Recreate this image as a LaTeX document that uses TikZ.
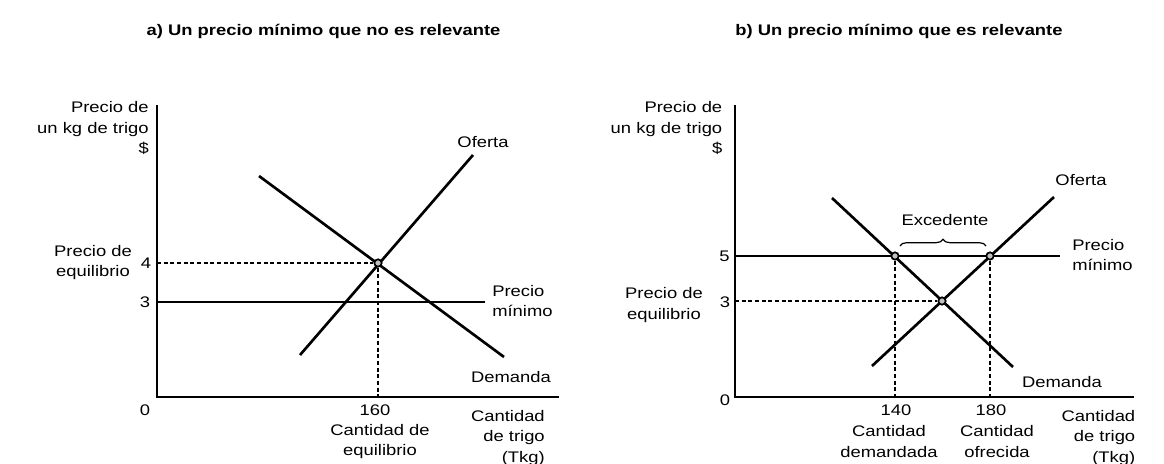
\documentclass[tikz,border=0pt]{standalone}
\usepackage{fontspec}
\setmainfont{Liberation Sans}[FakeStretch=1.2]
\usetikzlibrary{decorations.pathreplacing}
\begin{document}
\begin{tikzpicture}[x=0.75pt,y=-0.75pt,
  lbl/.style={inner sep=0pt,font=\fontsize{11.5}{15.4}\selectfont},
  ttl/.style={inner sep=0pt,font=\fontsize{11.5}{15.4}\selectfont\bfseries},
  axisline/.style={line width=1.4pt},
  curve/.style={line width=2pt},
  floor/.style={line width=1.6pt},
  guide/.style={line width=0.8pt,dash pattern=on 3pt off 2pt},
  pt/.style={circle,draw,line width=1.3pt,fill=gray!50,minimum size=5.5pt,inner sep=0pt}]
\useasboundingbox (0,0) rectangle (1164,464);

% ---------------- panel a ----------------
\node[ttl] (ta) at (323.5,31) {a) Un precio mínimo que no es relevante};
\coordinate (Ya) at (157,105);
\coordinate (Oa) at (157,397);
\coordinate (Xa) at (559,397);
\draw[axisline] (Ya) -- (Oa) -- (Xa);
\coordinate (Sa1) at (300,355); \coordinate (Sa2) at (473,155);
\coordinate (Da1) at (259,176); \coordinate (Da2) at (504,357);
\draw[curve] (Sa1) -- (Sa2);
\draw[curve] (Da1) -- (Da2);
\coordinate (Pa1) at (157,302); \coordinate (Pa2) at (485,302);
\draw[floor] (Pa1) -- (Pa2);
\node[pt] (Ea) at (378,263) {};
\coordinate (Ea4) at (157,263);
\coordinate (Eax) at (378,400);
\draw[guide] (Ea4) -- (Ea);
\draw[guide] (Ea) -- (Eax);

\node[lbl,align=right,anchor=east] (yla) at (149,128) {Precio de\\un kg de trigo\\\$};
\node[lbl] (ofa) at (483,142) {Oferta};
\node[lbl,align=center] (pea) at (93,262.5) {Precio de\\equilibrio};
\node[lbl] (c4) at (146,263) {4};
\node[lbl] (c3a) at (145,302) {3};
\node[lbl,align=left,anchor=west] (pma) at (492,301) {Precio\\mínimo};
\node[lbl] (dea) at (511,377) {Demanda};
\node[lbl] (z0a) at (145,410) {0};
\node[lbl] (q160) at (375,410) {160};
\node[lbl,align=center] (cea) at (380,441.5) {Cantidad de\\equilibrio};
\node[lbl,align=right,anchor=east] (xla) at (545,438) {Cantidad\\de trigo\\(Tkg)};

% ---------------- panel b ----------------
\node[ttl] (tb) at (899,31) {b) Un precio mínimo que es relevante};
\coordinate (Yb) at (735,105);
\coordinate (Ob) at (735,397);
\coordinate (Xb) at (1134,397);
\draw[axisline] (Yb) -- (Ob) -- (Xb);
\coordinate (Sb1) at (872,366); \coordinate (Sb2) at (1054,197);
\coordinate (Db1) at (832,198); \coordinate (Db2) at (1013,367);
\draw[curve] (Sb1) -- (Sb2);
\draw[curve] (Db1) -- (Db2);
\coordinate (Pb1) at (735,256); \coordinate (Pb2) at (1060,256);
\draw[floor] (Pb1) -- (Pb2);
\node[pt] (Eb) at (942,301) {};
\node[pt] (Qd) at (895,256) {};
\node[pt] (Qs) at (990,256) {};
\coordinate (Eb3) at (735,301);
\coordinate (Qdx) at (895,400);
\coordinate (Qsx) at (990,400);
\draw[guide] (Eb3) -- (Eb);
\draw[guide] (Qd) -- (Qdx);
\draw[guide] (Qs) -- (Qsx);
\coordinate (Br1) at (900,246); \coordinate (Br2) at (986,246);
\draw[line width=0.9pt,decorate,decoration={brace,amplitude=5pt}] (Br1) -- (Br2);

\node[lbl,align=right,anchor=east] (ylb) at (722.5,128) {Precio de\\un kg de trigo\\\$};
\node[lbl] (ofb) at (1081,180) {Oferta};
\node[lbl] (exc) at (945,220) {Excedente};
\node[lbl] (c5) at (724.5,256) {5};
\node[lbl] (c3b) at (725,302) {3};
\node[lbl,align=center] (peb) at (664,305) {Precio de\\equilibrio};
\node[lbl,align=left,anchor=west] (pmb) at (1072,255) {Precio\\mínimo};
\node[lbl] (deb) at (1062,382) {Demanda};
\node[lbl] (z0b) at (725,400) {0};
\node[lbl] (q140) at (896,410) {140};
\node[lbl] (q180) at (991,410) {180};
\node[lbl,align=center] (cdb) at (889,441.5) {Cantidad\\demandada};
\node[lbl,align=center] (cob) at (997,441.5) {Cantidad\\ofrecida};
\node[lbl,align=right,anchor=east] (xlb) at (1135.5,438) {Cantidad\\de trigo\\(Tkg)};
\end{tikzpicture}
\end{document}
